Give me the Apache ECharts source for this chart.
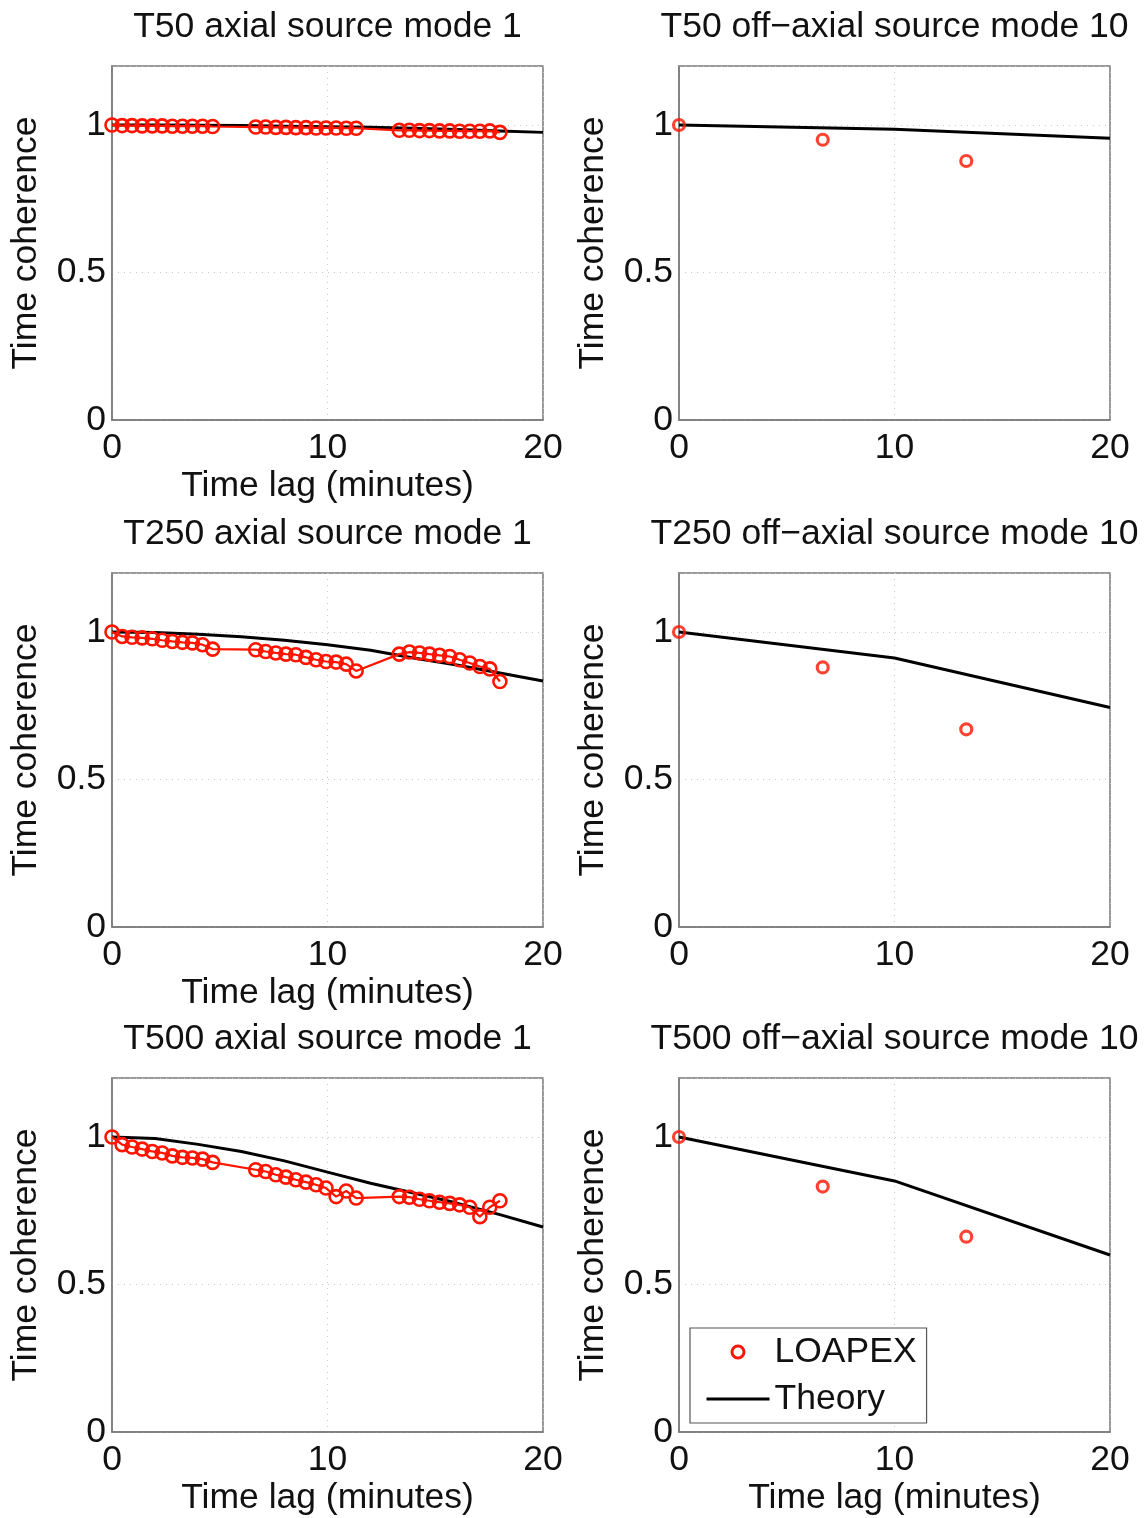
<!DOCTYPE html>
<html>
<head>
<meta charset="utf-8">
<script src="https://cdn.jsdelivr.net/npm/echarts@6/dist/echarts.min.js"></script>
<style>
html,body{margin:0;padding:0;background:#fff;}
#c{width:1148px;height:1518px;}
</style>
</head>
<body>
<div id="c"></div>
<script>
// ---- data ----
const panelTitles = [
  'T50 axial source mode 1', 'T50 off\u2212axial source mode 10',
  'T250 axial source mode 1', 'T250 off\u2212axial source mode 10',
  'T500 axial source mode 1', 'T500 off\u2212axial source mode 10'
];
const xTicks = [0, 10, 20];
const yTicks = [0, 0.5, 1];

const lagAxial = [0, 0.47, 0.93, 1.4, 1.87, 2.33, 2.8, 3.27, 3.73, 4.2, 4.67,
  6.67, 7.13, 7.6, 8.07, 8.53, 9, 9.47, 9.93, 10.4, 10.87, 11.33,
  13.33, 13.8, 14.27, 14.73, 15.2, 15.67, 16.13, 16.6, 17.07, 17.53, 18];
const lagOff = [0, 6.67, 13.33];
const theoryLagAxial = [0, 2, 4, 6, 8, 10, 12, 14, 16, 18, 20];
const theoryLagOff = [0, 10, 20];

const loapexT50Axial = [1, 0.998, 0.998, 0.997, 0.997, 0.997, 0.996, 0.996, 0.996, 0.996, 0.995,
  0.993, 0.993, 0.992, 0.992, 0.991, 0.991, 0.990, 0.990, 0.990, 0.989, 0.989,
  0.982, 0.982, 0.981, 0.981, 0.980, 0.980, 0.979, 0.979, 0.979, 0.980, 0.975];
const loapexT250Axial = [1, 0.985, 0.982, 0.980, 0.977, 0.972, 0.968, 0.965, 0.963, 0.957, 0.942,
  0.940, 0.934, 0.929, 0.925, 0.923, 0.914, 0.906, 0.900, 0.898, 0.891, 0.868,
  0.925, 0.932, 0.929, 0.925, 0.921, 0.917, 0.906, 0.895, 0.883, 0.875, 0.832];
const loapexT500Axial = [1, 0.974, 0.966, 0.959, 0.951, 0.946, 0.936, 0.931, 0.929, 0.925, 0.914,
  0.889, 0.883, 0.872, 0.864, 0.855, 0.847, 0.838, 0.827, 0.798, 0.817, 0.793,
  0.798, 0.796, 0.789, 0.784, 0.779, 0.775, 0.770, 0.762, 0.730, 0.762, 0.784];

const theoryT50Axial = [1, 1, 0.999, 0.998, 0.996, 0.994, 0.992, 0.989, 0.985, 0.980, 0.975];
const theoryT250Axial = [1, 0.998, 0.992, 0.984, 0.972, 0.957, 0.938, 0.912, 0.888, 0.861, 0.834];
const theoryT500Axial = [1, 0.995, 0.975, 0.951, 0.919, 0.881, 0.843, 0.810, 0.776, 0.737, 0.695];

const loapexT50Off = [1, 0.95, 0.878];
const loapexT250Off = [1, 0.88, 0.67];
const loapexT500Off = [1, 0.832, 0.662];
const theoryT50Off = [1, 0.986, 0.955];
const theoryT250Off = [1, 0.912, 0.744];
const theoryT500Off = [1, 0.851, 0.600];

// ---- layout ----
const FONT = '"Liberation Sans", Arial, Helvetica, sans-serif';
const FS = 35.5;
const RED = '#ff1400';
const colLeft = [112, 679];
const plotW = 431;
const rowTop = [66, 573, 1078];
const plotH = 354;

const panels = [
  {lag: lagAxial, data: loapexT50Axial, tlag: theoryLagAxial, theory: theoryT50Axial, axial: true},
  {lag: lagOff, data: loapexT50Off, tlag: theoryLagOff, theory: theoryT50Off, axial: false},
  {lag: lagAxial, data: loapexT250Axial, tlag: theoryLagAxial, theory: theoryT250Axial, axial: true},
  {lag: lagOff, data: loapexT250Off, tlag: theoryLagOff, theory: theoryT250Off, axial: false},
  {lag: lagAxial, data: loapexT500Axial, tlag: theoryLagAxial, theory: theoryT500Axial, axial: true},
  {lag: lagOff, data: loapexT500Off, tlag: theoryLagOff, theory: theoryT500Off, axial: false}
];

const grids = [], xAxes = [], yAxes = [], series = [], titles = [];
const zip = (xs, ys) => xs.map((x, i) => [x, ys[i]]);

panels.forEach((p, i) => {
  const row = Math.floor(i / 2), col = i % 2;
  const left = colLeft[col], top = rowTop[row];
  grids.push({left: left, top: top, width: plotW, height: plotH,
    show: true, borderColor: '#7a7a7a', borderWidth: 1.5, backgroundColor: '#fff'});
  titles.push({text: panelTitles[i], left: left + plotW / 2, top: top - 57, textAlign: 'center',
    padding: 0, textStyle: {fontFamily: FONT, fontSize: FS, fontWeight: 'normal', color: '#111'}});
  const showXName = (col === 0) || row === 2;
  xAxes.push({
    type: 'value', gridIndex: i, min: 0, max: 20, interval: 10,
    name: showXName ? 'Time lag (minutes)' : '', nameLocation: 'middle', nameGap: 48,
    nameTextStyle: {fontFamily: FONT, fontSize: FS, color: '#111'},
    axisLine: {show: true, onZero: false, lineStyle: {color: '#7a7a7a', width: 1.5}},
    axisTick: {show: false},
    axisLabel: {fontFamily: FONT, fontSize: FS, color: '#111', margin: 10,
      formatter: v => xTicks.indexOf(v) >= 0 ? String(v) : ''},
    splitLine: {show: true, lineStyle: {color: '#c8c8c8', width: 1, type: [1, 5]}}
  });
  yAxes.push({
    type: 'value', gridIndex: i, min: 0, max: 1.2, interval: 0.5,
    name: 'Time coherence', nameLocation: 'middle', nameGap: 68,
    nameTextStyle: {fontFamily: FONT, fontSize: FS, color: '#111'},
    axisLine: {show: true, onZero: false, lineStyle: {color: '#7a7a7a', width: 1.5}},
    axisTick: {show: false},
    axisLabel: {fontFamily: FONT, fontSize: FS, color: '#111', margin: 6,
      formatter: v => yTicks.some(t => Math.abs(t - v) < 1e-9) ? String(v) : ''},
    splitLine: {show: true, lineStyle: {color: '#c8c8c8', width: 1, type: [1, 5]}}
  });
  series.push({
    name: 'Theory', type: 'line', xAxisIndex: i, yAxisIndex: i,
    data: zip(p.tlag, p.theory), symbol: 'none', showSymbol: false,
    lineStyle: {color: '#000', width: 3}, itemStyle: {color: '#000'}, z: 2, silent: true
  });
  if (p.axial) {
    series.push({
      name: 'LOAPEX', type: 'line', xAxisIndex: i, yAxisIndex: i,
      data: zip(p.lag, p.data), symbol: 'circle', symbolSize: 13, showSymbol: true,
      lineStyle: {color: RED, width: 2.2},
      itemStyle: {color: 'rgba(255,255,255,0)', borderColor: RED, borderWidth: 2.6}, z: 3, silent: true
    });
  } else {
    series.push({
      name: 'LOAPEX', type: 'scatter', xAxisIndex: i, yAxisIndex: i,
      data: zip(p.lag, p.data), symbol: 'circle', symbolSize: 11,
      itemStyle: {color: 'rgba(255,255,255,0)', borderColor: RED, borderWidth: 3.2}, z: 3, silent: true
    });
  }
});

const chart = echarts.init(document.getElementById('c'), null, {renderer: 'canvas'});
chart.setOption({
  animation: false,
  backgroundColor: '#fff',
  title: titles,
  grid: grids,
  xAxis: xAxes,
  yAxis: yAxes,
  series: series,
  legend: {
    data: [
      {name: 'LOAPEX', icon: 'circle', itemStyle: {color: 'rgba(255,255,255,0)', borderColor: RED, borderWidth: 3}},
      {name: 'Theory', itemStyle: {opacity: 0}, lineStyle: {color: '#000', width: 3}}
    ],
    orient: 'vertical', left: 690, top: 1328,
    padding: [6, 10, 6, 15], itemGap: 11, itemWidth: 63, itemHeight: 12,
    backgroundColor: '#fff', borderColor: '#555', borderWidth: 1.2,
    textStyle: {fontFamily: FONT, fontSize: FS, color: '#111', padding: [0, 0, 0, 0]},
    selectedMode: false
  }
});
</script>
</body>
</html>
